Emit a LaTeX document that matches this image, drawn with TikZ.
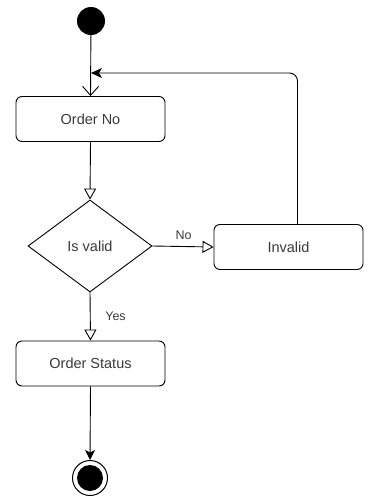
\documentclass[tikz,border=0pt]{standalone}
\usepackage{fontspec}
\setmainfont{Liberation Sans}
\usetikzlibrary{shapes.geometric,arrows.meta}
\definecolor{txt}{HTML}{3A3A3A}
\tikzset{
  x=1pt, y=-1pt,
  every node/.style={font=\fontsize{14.5}{17}\selectfont, text=txt},
  actbox/.style={draw, line width=0.9pt, rounded corners=6pt, minimum width=149pt, minimum height=45pt, inner sep=0pt},
  decision/.style={diamond, draw, line width=0.9pt, minimum width=124pt, minimum height=92pt, inner sep=0pt, aspect=1.35},
  flow/.style={line width=0.9pt},
  openv/.style={-{Straight Barb[length=9pt,width=16pt]}},
  opentri/.style={-{Triangle[open,length=11pt,width=12pt,fill=white]}},
  solidtip/.style={-{Stealth[length=10pt,width=10pt,inset=2.5pt]}},
  lbl/.style={font=\fontsize{12.5}{15}\selectfont, inner sep=0pt}
}
\begin{document}
\begin{tikzpicture}
\useasboundingbox (0,0) rectangle (372,498);
% start and end markers
\node[circle, fill=black, minimum size=28pt, inner sep=0pt] (start) at (91,21) {};
\node[circle, draw, line width=1pt, minimum size=35pt, inner sep=0pt] (stop) at (90,478) {};
\node[circle, fill=black, minimum size=26pt, inner sep=0pt] at (stop) {};
% activities
\node[actbox] (order) at (90.5,119) {Order No};
\node[decision] (valid) at (90,246) {Is valid};
\node[actbox] (invalid) at (288.5,247) {Invalid};
\node[actbox] (status) at (90.5,363.5) {Order Status};
% connectors
\coordinate (join) at (91,73);
\draw[flow, openv] (start) -- (order.north);
\draw[flow, opentri] (order.south) -- (valid.north);
\draw[flow, opentri] (valid.east) -- (invalid.west);
\node[lbl] (nolbl) at (183.5,235) {No};
\draw[flow, opentri] (valid.south) -- (status.north);
\node[lbl] (yeslbl) at (115.5,316) {Yes};
\draw[flow, solidtip] (status.south) -- (stop.north);
\draw[flow, -{Stealth[length=11pt,width=10pt,inset=3pt]}, rounded corners=8pt] ([xshift=9pt]invalid.north) |- (join);
\end{tikzpicture}
\end{document}
